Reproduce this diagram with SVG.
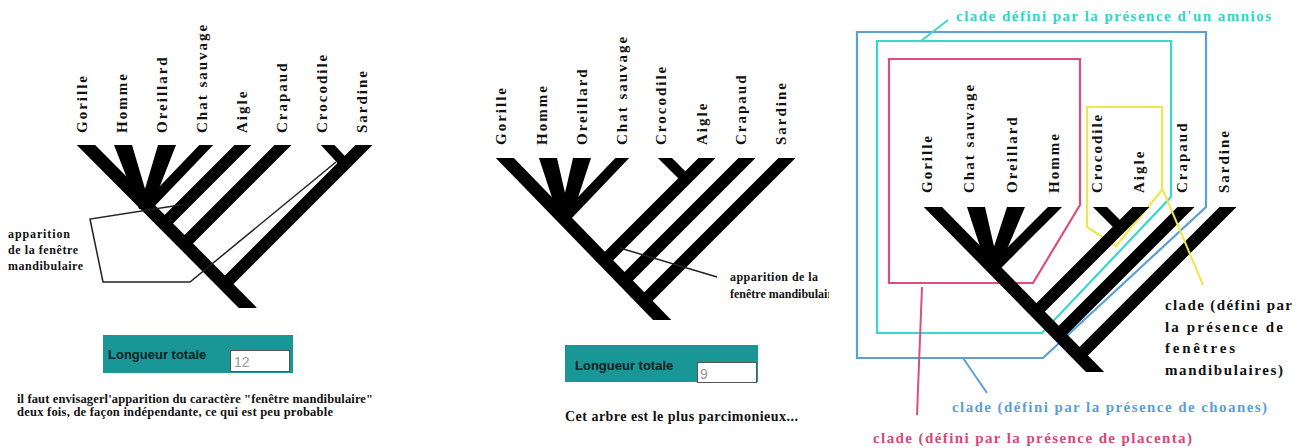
<svg xmlns="http://www.w3.org/2000/svg" width="1305" height="448" viewBox="0 0 1305 448">
<style>
.lbl{font-family:"Liberation Serif","DejaVu Serif",serif;font-weight:bold;font-size:15px;letter-spacing:2px;fill:#111}
.br{stroke:#000;stroke-width:12;stroke-linecap:butt;fill:none}
.thin{stroke:#000;stroke-width:10}
.wedge{fill:#000}
.note{font-family:"Liberation Serif","DejaVu Serif",serif;font-weight:bold;font-size:12px;fill:#111}
.box{fill:#199797}
.inp{fill:#fff;stroke:#555;stroke-width:1}
.lt{font-family:"Liberation Sans",Arial,sans-serif;font-weight:bold;font-size:13px;fill:#0b2222}
.val{font-family:"Liberation Sans",Arial,sans-serif;font-size:14px;fill:#999}
.ptr{fill:none;stroke:#222;stroke-width:1.5}
.clade{fill:none;stroke-width:2.2;stroke-linejoin:miter}
.ct{font-family:"Liberation Serif","DejaVu Serif",serif;font-weight:bold;font-size:15px}
</style>
<defs>
<clipPath id="c1"><rect x="0" y="145" width="420" height="163"/></clipPath>
<clipPath id="c2"><rect x="480" y="158" width="360" height="162"/></clipPath>
<clipPath id="c3"><rect x="880" y="207" width="380" height="165"/></clipPath>
<clipPath id="c4"><rect x="700" y="260" width="129" height="50"/></clipPath>
</defs>
<rect width="1305" height="448" fill="#fff"/>

<!-- LEFT TREE -->
<g id="tree-left">
<g id="left-labels">
<text class="lbl" transform="translate(87,133) rotate(-90)">Gorille</text>
<text class="lbl" transform="translate(127,133) rotate(-90)">Homme</text>
<text class="lbl" transform="translate(167,133) rotate(-90)">Oreillard</text>
<text class="lbl" transform="translate(207,133) rotate(-90)">Chat sauvage</text>
<text class="lbl" transform="translate(247,133) rotate(-90)">Aigle</text>
<text class="lbl" transform="translate(287,133) rotate(-90)">Crapaud</text>
<text class="lbl" transform="translate(327,133) rotate(-90)">Crocodile</text>
<text class="lbl" transform="translate(367,133) rotate(-90)">Sardine</text>
</g>
<g id="left-branches" clip-path="url(#c1)">
<line class="br" x1="80" y1="139" x2="252" y2="312" style="stroke-width:13"/>
<polygon class="wedge" points="114,145 132,145 151,209 139,209"/>
<polygon class="wedge" points="158,145 176,145 151,209 139,209"/>
<line class="br thin" x1="212" y1="139" x2="144" y2="210"/>
<line class="br" x1="249" y1="139" x2="164" y2="224"/>
<line class="br" x1="289" y1="139" x2="184" y2="244"/>
<line class="br" x1="370" y1="139" x2="225" y2="284"/>
<line class="br thin" x1="323" y1="140" x2="349" y2="168"/>
</g>
<g id="left-annotation">
<path class="ptr" d="M180,205 L90,219 L103,282 L190,282 L336,162"/>
<text class="note" x="8" y="238" textLength="62" lengthAdjust="spacing">apparition</text>
<text class="note" x="8" y="254" textLength="70" lengthAdjust="spacing">de la fenêtre</text>
<text class="note" x="8" y="270" textLength="75" lengthAdjust="spacing">mandibulaire</text>
</g>
<g id="left-score">
<rect class="box" x="103" y="335" width="190" height="38"/>
<text class="lt" x="108" y="359">Longueur totale</text>
<rect class="inp" x="230.5" y="350.5" width="59" height="21"/>
<text class="val" x="234" y="367">12</text>
</g>
<g id="left-caption">
<text class="note" x="17" y="403" style="font-size:12.5px" textLength="356" lengthAdjust="spacing">il faut envisagerl'apparition du caractère "fenêtre mandibulaire"</text>
<text class="note" x="17" y="416" style="font-size:12.5px" textLength="316" lengthAdjust="spacing">deux fois, de façon indépendante, ce qui est peu probable</text>
</g>
</g>

<!-- MIDDLE TREE -->
<g id="tree-middle">
<g id="middle-labels">
<text class="lbl" transform="translate(506,145) rotate(-90)">Gorille</text>
<text class="lbl" transform="translate(547,145) rotate(-90)">Homme</text>
<text class="lbl" transform="translate(587,145) rotate(-90)">Oreillard</text>
<text class="lbl" transform="translate(627,145) rotate(-90)">Chat sauvage</text>
<text class="lbl" transform="translate(666,145) rotate(-90)">Crocodile</text>
<text class="lbl" transform="translate(707,145) rotate(-90)">Aigle</text>
<text class="lbl" transform="translate(746,145) rotate(-90)">Crapaud</text>
<text class="lbl" transform="translate(786,145) rotate(-90)">Sardine</text>
</g>
<g id="middle-branches" clip-path="url(#c2)">
<line class="br" x1="499" y1="152" x2="667" y2="325" style="stroke-width:13"/>
<polygon class="wedge" points="539,158 557,158 571,219 559,219"/>
<polygon class="wedge" points="573,158 591,158 571,219 559,219"/>
<line class="br thin" x1="628" y1="152" x2="564" y2="219"/>
<line class="br" x1="713" y1="152" x2="605" y2="260"/>
<line class="br" x1="753" y1="152" x2="625" y2="280"/>
<line class="br" x1="793" y1="152" x2="645" y2="300"/>
<line class="br thin" x1="660" y1="153" x2="689" y2="182"/>
</g>
<g id="middle-annotation">
<line class="ptr" x1="620" y1="248" x2="717" y2="277"/>
<text class="note" x="730" y="281" textLength="88" lengthAdjust="spacing">apparition de la</text>
<g clip-path="url(#c4)">
<text class="note" x="730" y="298">fenêtre mandibulaire</text>
</g>
</g>
<g id="middle-score">
<rect class="box" x="565" y="345" width="193" height="37"/>
<text class="lt" x="575" y="370">Longueur totale</text>
<rect class="inp" x="697.5" y="362.5" width="59" height="20"/>
<text class="val" x="700" y="379">9</text>
</g>
<g id="middle-caption">
<text class="note" x="565" y="421" style="font-size:14px" textLength="233" lengthAdjust="spacing">Cet arbre est le plus parcimonieux...</text>
</g>
</g>

<!-- RIGHT TREE -->
<g id="tree-right">
<g id="right-clades">
<polygon id="clade-choanes" class="clade" stroke="#5a9fd8" points="857,32 1206,32 1206,207 1043,358 857,358"/>
<polygon id="clade-amnios" class="clade" stroke="#3ad8cc" points="877,41 1171,41 1171,197 1042,333 877,333"/>
<polygon id="clade-placenta" class="clade" stroke="#d9507f" points="889,59 1080,59 1080,205 1033,283 889,283"/>
<polygon id="clade-fenetres" class="clade" stroke="#efe64a" points="1087,107 1162,107 1162,190 1116,246 1087,227"/>
</g>
<g id="right-labels">
<text class="lbl" transform="translate(932,193) rotate(-90)">Gorille</text>
<text class="lbl" transform="translate(974,193) rotate(-90)">Chat sauvage</text>
<text class="lbl" transform="translate(1017,193) rotate(-90)">Oreillard</text>
<text class="lbl" transform="translate(1059,193) rotate(-90)">Homme</text>
<text class="lbl" transform="translate(1102,193) rotate(-90)">Crocodile</text>
<text class="lbl" transform="translate(1144,193) rotate(-90)">Aigle</text>
<text class="lbl" transform="translate(1187,193) rotate(-90)">Crapaud</text>
<text class="lbl" transform="translate(1229,193) rotate(-90)">Sardine</text>
</g>
<g id="right-branches" clip-path="url(#c3)">
<line class="br" x1="927" y1="201" x2="1100" y2="377" style="stroke-width:13"/>
<polygon class="wedge" points="967,207 985,207 999,268 987,268"/>
<polygon class="wedge" points="1007,207 1025,207 999,268 987,268"/>
<line class="br thin" x1="1061" y1="201" x2="992" y2="270"/>
<line class="br" x1="1147" y1="201" x2="1036" y2="312"/>
<line class="br" x1="1192" y1="201" x2="1059" y2="334"/>
<line class="br" x1="1234" y1="201" x2="1080" y2="355"/>
<line class="br thin" x1="1095" y1="202" x2="1123" y2="230"/>
</g>
<g id="right-pointers">
<line stroke="#3ad8cc" stroke-width="2" x1="921" y1="41" x2="948" y2="20"/>
<line stroke="#5a9fd8" stroke-width="2" x1="963" y1="358" x2="987" y2="393"/>
<line stroke="#d9507f" stroke-width="2" x1="922" y1="287" x2="917" y2="415"/>
<line stroke="#efe64a" stroke-width="2" x1="1163" y1="190" x2="1203" y2="285"/>
</g>
<g id="right-texts">
<text class="ct" x="956" y="21" fill="#33d4c6" textLength="315" lengthAdjust="spacing">clade défini par la présence d'un amnios</text>
<text class="ct" x="1165" y="310" fill="#111" textLength="127" lengthAdjust="spacing">clade (défini par</text>
<text class="ct" x="1165" y="332" fill="#111" textLength="118" lengthAdjust="spacing">la présence de</text>
<text class="ct" x="1165" y="353" fill="#111" textLength="70" lengthAdjust="spacing">fenêtres</text>
<text class="ct" x="1165" y="375" fill="#111" textLength="118" lengthAdjust="spacing">mandibulaires)</text>
<text class="ct" x="952" y="412" fill="#5a9fd8" textLength="315" lengthAdjust="spacing">clade (défini par la présence de choanes)</text>
<text class="ct" x="873" y="443" fill="#d6487a" textLength="319" lengthAdjust="spacing">clade (défini par la présence de placenta)</text>
</g>
</g>
</svg>
